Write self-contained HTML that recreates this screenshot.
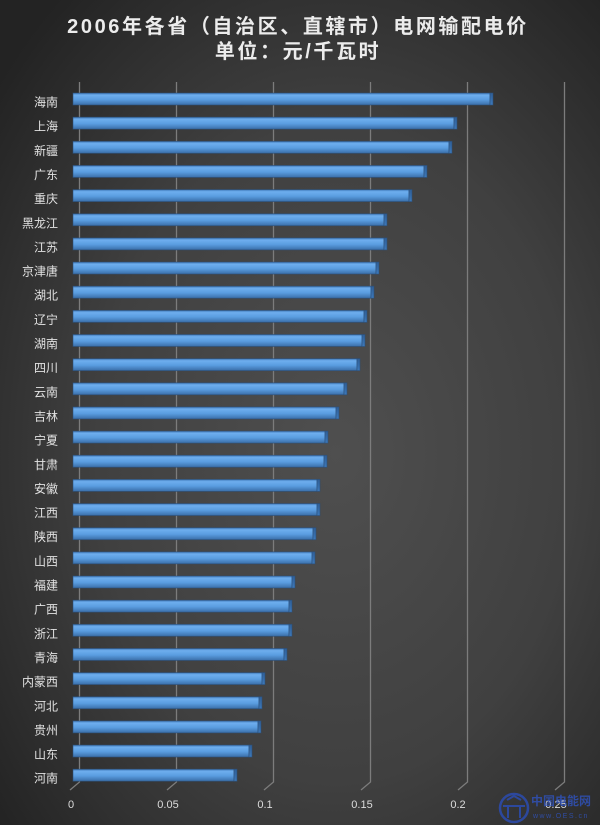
<!DOCTYPE html>
<html><head><meta charset="utf-8"><style>
html,body{margin:0;padding:0;background:#2a2a2a;}
svg{display:block;}
.t{font-family:"Liberation Sans","Noto Sans CJK SC",sans-serif;}
</style></head><body>
<svg width="600" height="825" viewBox="0 0 600 825" xmlns="http://www.w3.org/2000/svg">
<defs>
<radialGradient id="bgg" cx="56%" cy="55%" r="72%">
<stop offset="0" stop-color="#4f4f4f"/>
<stop offset="0.55" stop-color="#404040"/>
<stop offset="1" stop-color="#232323"/>
</radialGradient>
<linearGradient id="bar" x1="0" y1="0" x2="0" y2="1">
<stop offset="0" stop-color="#3f78b8"/>
<stop offset="0.18" stop-color="#6eaeee"/>
<stop offset="0.55" stop-color="#5a9de0"/>
<stop offset="1" stop-color="#3a6ea8"/>
</linearGradient>
<linearGradient id="cap" x1="0" y1="0" x2="0" y2="1">
<stop offset="0" stop-color="#2f5f98"/>
<stop offset="1" stop-color="#3d78b8"/>
</linearGradient>
<g id="dummy"></g>
</defs>
<rect width="600" height="825" fill="url(#bgg)"/>

<!-- title -->
<text class="t" x="298" y="33" text-anchor="middle" font-size="20" font-weight="bold" fill="#ececec" letter-spacing="2.6">2006年各省（自治区、直辖市）电网输配电价</text>
<text class="t" x="298" y="58" text-anchor="middle" font-size="20" font-weight="bold" fill="#ececec" letter-spacing="2.6">单位：元/千瓦时</text>

<!-- gridlines (3D back wall) -->
<g stroke="#7c7c7c" stroke-width="1.3" fill="none">
<path d="M79.5 82 V782 L70 790"/>
<path d="M176.5 82 V782 L167 790"/>
<path d="M273.5 82 V782 L264 790"/>
<path d="M370.5 82 V782 L361 790"/>
<path d="M467.5 82 V782 L458 790"/>
<path d="M564.5 82 V782 L555 790"/>
</g>

<!-- tick labels -->
<g class="t" font-size="11" fill="#dcdcdc" text-anchor="middle">
<text x="71" y="808">0</text>
<text x="168" y="808">0.05</text>
<text x="265" y="808">0.1</text>
<text x="362" y="808">0.15</text>
<text x="458" y="808">0.2</text>
<text x="556" y="808">0.25</text>
</g>

<!-- bars -->
<g stroke="#2b4f78" stroke-width="0.8" stroke-opacity="0.7">
<rect x="73" y="93" width="417" height="12" fill="url(#bar)"/><rect x="490" y="93" width="3" height="12" fill="url(#cap)"/>
<rect x="73" y="117.15" width="381" height="12" fill="url(#bar)"/><rect x="454" y="117.15" width="3" height="12" fill="url(#cap)"/>
<rect x="73" y="141.3" width="376" height="12" fill="url(#bar)"/><rect x="449" y="141.3" width="3" height="12" fill="url(#cap)"/>
<rect x="73" y="165.45" width="351" height="12" fill="url(#bar)"/><rect x="424" y="165.45" width="3" height="12" fill="url(#cap)"/>
<rect x="73" y="189.6" width="336" height="12" fill="url(#bar)"/><rect x="409" y="189.6" width="3" height="12" fill="url(#cap)"/>
<rect x="73" y="213.75" width="311" height="12" fill="url(#bar)"/><rect x="384" y="213.75" width="3" height="12" fill="url(#cap)"/>
<rect x="73" y="237.9" width="311" height="12" fill="url(#bar)"/><rect x="384" y="237.9" width="3" height="12" fill="url(#cap)"/>
<rect x="73" y="262.05" width="303" height="12" fill="url(#bar)"/><rect x="376" y="262.05" width="3" height="12" fill="url(#cap)"/>
<rect x="73" y="286.2" width="298" height="12" fill="url(#bar)"/><rect x="371" y="286.2" width="3" height="12" fill="url(#cap)"/>
<rect x="73" y="310.35" width="291" height="12" fill="url(#bar)"/><rect x="364" y="310.35" width="3" height="12" fill="url(#cap)"/>
<rect x="73" y="334.5" width="289" height="12" fill="url(#bar)"/><rect x="362" y="334.5" width="3" height="12" fill="url(#cap)"/>
<rect x="73" y="358.65" width="284" height="12" fill="url(#bar)"/><rect x="357" y="358.65" width="3" height="12" fill="url(#cap)"/>
<rect x="73" y="382.8" width="271" height="12" fill="url(#bar)"/><rect x="344" y="382.8" width="3" height="12" fill="url(#cap)"/>
<rect x="73" y="406.95" width="263" height="12" fill="url(#bar)"/><rect x="336" y="406.95" width="3" height="12" fill="url(#cap)"/>
<rect x="73" y="431.1" width="252" height="12" fill="url(#bar)"/><rect x="325" y="431.1" width="3" height="12" fill="url(#cap)"/>
<rect x="73" y="455.25" width="251" height="12" fill="url(#bar)"/><rect x="324" y="455.25" width="3" height="12" fill="url(#cap)"/>
<rect x="73" y="479.4" width="244" height="12" fill="url(#bar)"/><rect x="317" y="479.4" width="3" height="12" fill="url(#cap)"/>
<rect x="73" y="503.55" width="244" height="12" fill="url(#bar)"/><rect x="317" y="503.55" width="3" height="12" fill="url(#cap)"/>
<rect x="73" y="527.7" width="240" height="12" fill="url(#bar)"/><rect x="313" y="527.7" width="3" height="12" fill="url(#cap)"/>
<rect x="73" y="551.85" width="239" height="12" fill="url(#bar)"/><rect x="312" y="551.85" width="3" height="12" fill="url(#cap)"/>
<rect x="73" y="576" width="219" height="12" fill="url(#bar)"/><rect x="292" y="576" width="3" height="12" fill="url(#cap)"/>
<rect x="73" y="600.15" width="216" height="12" fill="url(#bar)"/><rect x="289" y="600.15" width="3" height="12" fill="url(#cap)"/>
<rect x="73" y="624.3" width="216" height="12" fill="url(#bar)"/><rect x="289" y="624.3" width="3" height="12" fill="url(#cap)"/>
<rect x="73" y="648.45" width="211" height="12" fill="url(#bar)"/><rect x="284" y="648.45" width="3" height="12" fill="url(#cap)"/>
<rect x="73" y="672.6" width="189" height="12" fill="url(#bar)"/><rect x="262" y="672.6" width="3" height="12" fill="url(#cap)"/>
<rect x="73" y="696.75" width="186" height="12" fill="url(#bar)"/><rect x="259" y="696.75" width="3" height="12" fill="url(#cap)"/>
<rect x="73" y="720.9" width="185" height="12" fill="url(#bar)"/><rect x="258" y="720.9" width="3" height="12" fill="url(#cap)"/>
<rect x="73" y="745.05" width="176" height="12" fill="url(#bar)"/><rect x="249" y="745.05" width="3" height="12" fill="url(#cap)"/>
<rect x="73" y="769.2" width="161" height="12" fill="url(#bar)"/><rect x="234" y="769.2" width="3" height="12" fill="url(#cap)"/>
</g>

<!-- category labels -->
<g class="t" font-size="12" fill="#e2e2e2" text-anchor="end">
<text x="58" y="106.5">海南</text>
<text x="58" y="130.65">上海</text>
<text x="58" y="154.8">新疆</text>
<text x="58" y="178.95">广东</text>
<text x="58" y="203.1">重庆</text>
<text x="58" y="227.25">黑龙江</text>
<text x="58" y="251.4">江苏</text>
<text x="58" y="275.55">京津唐</text>
<text x="58" y="299.7">湖北</text>
<text x="58" y="323.85">辽宁</text>
<text x="58" y="348">湖南</text>
<text x="58" y="372.15">四川</text>
<text x="58" y="396.3">云南</text>
<text x="58" y="420.45">吉林</text>
<text x="58" y="444.6">宁夏</text>
<text x="58" y="468.75">甘肃</text>
<text x="58" y="492.9">安徽</text>
<text x="58" y="517.05">江西</text>
<text x="58" y="541.2">陕西</text>
<text x="58" y="565.35">山西</text>
<text x="58" y="589.5">福建</text>
<text x="58" y="613.65">广西</text>
<text x="58" y="637.8">浙江</text>
<text x="58" y="661.95">青海</text>
<text x="58" y="686.1">内蒙西</text>
<text x="58" y="710.25">河北</text>
<text x="58" y="734.4">贵州</text>
<text x="58" y="758.55">山东</text>
<text x="58" y="782.7">河南</text>
</g>

<!-- watermark -->
<g opacity="0.75">
<circle cx="514" cy="808" r="14" fill="none" stroke="#2a4fc0" stroke-width="2.5"/>
<path d="M503 806 H525 M508 806 V818 M520 806 V818 M507 800 L514 796 L521 800" stroke="#2a4fc0" stroke-width="2" fill="none"/>
<text class="t" x="531" y="805" font-size="12" font-weight="bold" fill="#2f55c8">中国电能网</text>
<text class="t" x="533" y="818" font-size="7" fill="#2f55c8" letter-spacing="1.5">www.OES.cn</text>
</g>
</svg>
</body></html>
